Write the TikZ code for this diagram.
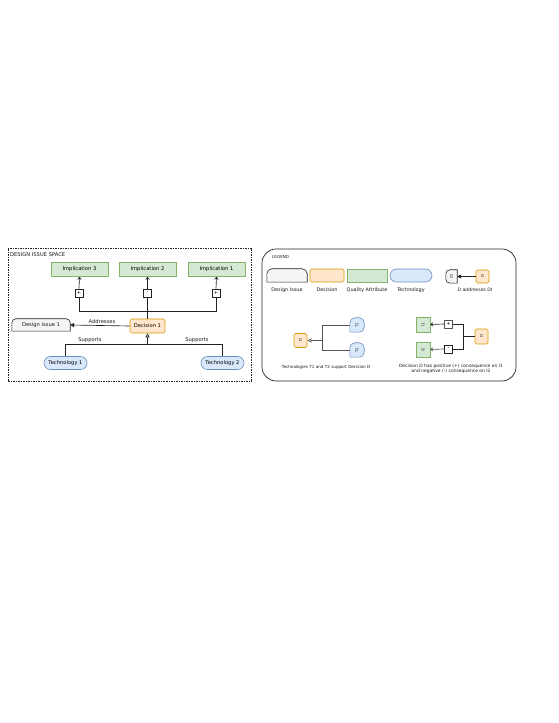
\documentclass[tikz,border=0pt]{standalone}
\usepackage{fontspec}
\setmainfont{DejaVu Sans}
\usetikzlibrary{arrows.meta}
\definecolor{qaF}{HTML}{D5E8D4}\definecolor{qaD}{HTML}{82B366}
\definecolor{decF}{HTML}{FFE6CC}\definecolor{decD}{HTML}{D79B00}
\definecolor{techF}{HTML}{DAE8FC}\definecolor{techD}{HTML}{6C8EBF}
\definecolor{diF}{HTML}{F5F5F5}\definecolor{diD}{HTML}{222222}
\definecolor{ln}{HTML}{222222}\definecolor{lg}{HTML}{555555}
\newcommand\fsl{\fontsize{5.2pt}{6pt}\selectfont}
\newcommand\fsz{\fontsize{4.9pt}{6pt}\selectfont}
\newcommand\fss{\fontsize{4.1pt}{5pt}\selectfont}
\newcommand\fsa{\fontsize{4.6pt}{5.4pt}\selectfont}
\newcommand\fsc{\fontsize{4.45pt}{5.5pt}\selectfont}
\newcommand\fsm{\fontsize{3.8pt}{4.4pt}\selectfont}
\newcommand\fsp{\fontsize{5pt}{5pt}\selectfont}
\tikzset{
  txt/.style={inner sep=0pt,font=\fsl,text=black!90},
  qa/.style={draw=qaD,fill=qaF,line width=0.6pt,inner sep=0pt,font=\fsl},
  dec/.style={draw=decD,fill=decF,line width=0.6pt,inner sep=0pt,font=\fsl,rounded corners=1.5pt},
  tech/.style={draw=techD,fill=techF,line width=0.6pt,inner sep=0pt,font=\fsl},
  dibox/.style={inner sep=0pt,font=\fsl},
  distyle/.style={draw=diD,fill=diF,line width=0.6pt},
  pm/.style={draw=ln,fill=white,line width=0.6pt,minimum width=8pt,minimum height=8pt,inner sep=0pt,font=\fsp},
  conn/.style={draw=ln,line width=0.65pt},
  lconn/.style={draw=lg,line width=0.65pt},
  fillarr/.style={-{Triangle[length=4pt,width=4pt]}},
  hollowarr/.style={-{Triangle[open,length=4pt,width=4pt,fill=white]}},
  openarr/.style={-{Straight Barb[length=2.2pt,width=3.6pt]}},
}
\begin{document}
\begin{tikzpicture}[x=1pt,y=1pt]
\useasboundingbox (0,0) rectangle (559,723);
% ===== Left: design issue space =====
\draw[draw=ln,dashed,dash pattern=on 1.5pt off 1pt,line width=0.6pt] (8,342) rectangle (251,475);
\node[txt,anchor=west] (title) at (10,468.5) {DESIGN ISSUE SPACE};
\node[qa,minimum width=57pt,minimum height=14pt] (impl3) at (79.5,453.5) {Implication 3};
\node[qa,minimum width=57pt,minimum height=14pt] (impl2) at (147.5,453.5) {Implication 2};
\node[qa,minimum width=57pt,minimum height=14pt] (impl1) at (216.5,453.5) {Implication 1};
\node[pm] (p3) at (79,430) {+};
\node[pm] (p2) at (147.5,430) {-};
\node[pm] (p1) at (216,430) {+};
\node[dec,minimum width=35pt,minimum height=14pt] (dec1) at (147.5,397) {Decision 1};
\node[dibox,minimum width=58pt,minimum height=12pt] (di1) at (41,398) {};
\draw[distyle] (di1.south west) -- ([yshift=-4pt]di1.north west) arc[start angle=180,end angle=90,radius=4pt] -- ([xshift=-4pt]di1.north east) arc[start angle=90,end angle=0,radius=4pt] -- (di1.south east) -- cycle;
\node[txt] at (di1) {Design issue 1};
\node[tech,rounded corners=6.5pt,minimum width=43pt,minimum height=13pt] (tech1) at (65.5,360) {Technology 1};
\node[tech,rounded corners=6.5pt,minimum width=43pt,minimum height=13pt] (tech2) at (222.5,360) {Technology 2};
\coordinate (j) at (147.5,412);
\draw[conn] (dec1.north) -- (j) -| (p3.south);
\draw[conn] (j) -| (p1.south);
\draw[conn] (j) -- (p2.south);
\draw[conn,openarr] (p3.north) -- (impl3.south);
\draw[conn,openarr] (p2.north) -- (impl2.south);
\draw[conn,openarr] (p1.north) -- (impl1.south);
\draw[conn,fillarr] (dec1.west) -- (di1.east);
\node[txt] (addr) at (102,401.5) {Addresses};
\coordinate (s) at (147.5,379);
\draw[conn] (tech1.north) -- (tech1.north |- s) -- (tech2.north |- s) -- (tech2.north);
\draw[conn,hollowarr] (s) -- (dec1.south);
\node[txt] (sup1) at (90,383) {Supports};
\node[txt] (sup2) at (197,383) {Supports};
% ===== Right: legend =====
\draw[draw=ln,line width=0.7pt,rounded corners=14pt] (262,342) rectangle (516,474);
\node[txt,font=\fss,anchor=west] (legend) at (272,466) {LEGEND};
\node[dibox,minimum width=40pt,minimum height=13pt] (ldi) at (287,447.5) {};
\draw[distyle] (ldi.south west) -- ([yshift=-5pt]ldi.north west) arc[start angle=180,end angle=90,radius=5pt] -- ([xshift=-5pt]ldi.north east) arc[start angle=90,end angle=0,radius=5pt] -- (ldi.south east) -- cycle;
\node[dec,minimum width=34pt,minimum height=13pt] (ldec) at (327,447.5) {};
\node[qa,minimum width=40pt,minimum height=13pt] (lqa) at (367,447.5) {};
\node[tech,rounded corners=6.5pt,minimum width=42pt,minimum height=13pt] (ltech) at (411,447.5) {};
\node[txt,font=\fsz] (ldit) at (287,433) {Design Issue};
\node[txt,font=\fsz] (ldect) at (327,433) {Decision};
\node[txt,font=\fsz] (lqat) at (367,433) {Quality Attribute};
\node[txt,font=\fsz] (ltecht) at (411,433) {Technology};
% D addresses DI
\node[dibox,minimum width=11pt,minimum height=13pt] (adi) at (451.5,446.5) {};
\draw[distyle] (adi.north east) -- ([xshift=4pt]adi.north west) arc[start angle=90,end angle=180,radius=4pt] -- ([yshift=4pt]adi.south west) arc[start angle=180,end angle=270,radius=4pt] -- (adi.south east) -- cycle;
\node[txt,font=\fsm,rotate=90] at (adi) {DI};
\node[dec,minimum width=13pt,minimum height=13pt] (ad) at (482.5,446.5) {};
\node[txt,font=\fsm,rotate=90] at (ad) {D};
\draw[conn,fillarr] (ad.west) -- (adi.east);
\node[txt,font=\fsa] (adt) at (475,433) {D addresses DI};
% Technologies support decision
\node[dec,minimum width=13pt,minimum height=14pt] (td) at (300.5,382.5) {};
\node[txt,font=\fsm,rotate=90] at (td) {D};
\node[dibox,minimum width=14pt,minimum height=14pt] (t1) at (357,398) {};
\draw[draw=techD,fill=techF,line width=0.6pt] (t1.south west) -- ([yshift=-5pt]t1.north west) arc[start angle=180,end angle=90,radius=5pt] -- ([xshift=-5pt]t1.north east) arc[start angle=90,end angle=0,radius=5pt] -- ([yshift=5pt]t1.south east) arc[start angle=0,end angle=-90,radius=5pt] -- cycle;
\node[txt,font=\fsm,rotate=90] at (t1) {T1};
\node[dibox,minimum width=14pt,minimum height=14pt] (t2) at (357,373) {};
\draw[draw=techD,fill=techF,line width=0.6pt] (t2.south west) -- ([yshift=-5pt]t2.north west) arc[start angle=180,end angle=90,radius=5pt] -- ([xshift=-5pt]t2.north east) arc[start angle=90,end angle=0,radius=5pt] -- ([yshift=5pt]t2.south east) arc[start angle=0,end angle=-90,radius=5pt] -- cycle;
\node[txt,font=\fsm,rotate=90] at (t2) {T2};
\coordinate (b) at (322,382.5);
\draw[lconn] (t1.west) -| (b);
\draw[lconn] (t2.west) -| (b);
\draw[lconn,hollowarr] (b) -- (td.east);
\node[txt,font=\fss] (tt) at (326,356) {Technologies T1 and T2 support Decision D};
% Consequences
\node[qa,minimum width=14pt,minimum height=15pt] (ci1) at (423,398.5) {};
\node[txt,font=\fsm,rotate=90] at (ci1) {I1};
\node[qa,minimum width=14pt,minimum height=15pt] (ci2) at (423,373.5) {};
\node[txt,font=\fsm,rotate=90] at (ci2) {I2};
\node[pm,draw=lg] (cp) at (448.5,399) {+};
\node[pm,draw=ln] (cm) at (448.5,374) {-};
\node[dec,minimum width=13pt,minimum height=15pt] (cd) at (481.5,386.5) {};
\node[txt,font=\fsm,rotate=90] at (cd) {D};
\coordinate (c) at (463,386.5);
\draw[conn] (cd.west) -- (c);
\draw[conn] (c) |- (cp.east);
\draw[conn] (c) |- (cm.east);
\draw[conn,openarr] (cp.west) -- (ci1.east);
\draw[lconn,openarr] (cm.west) -- (ci2.east);
\node[txt,align=center,font=\fsc] (ct) at (451,354) {Decision D has positive (+) consequence on I1\\and negative (-) consequence on I2};
\end{tikzpicture}
\end{document}
